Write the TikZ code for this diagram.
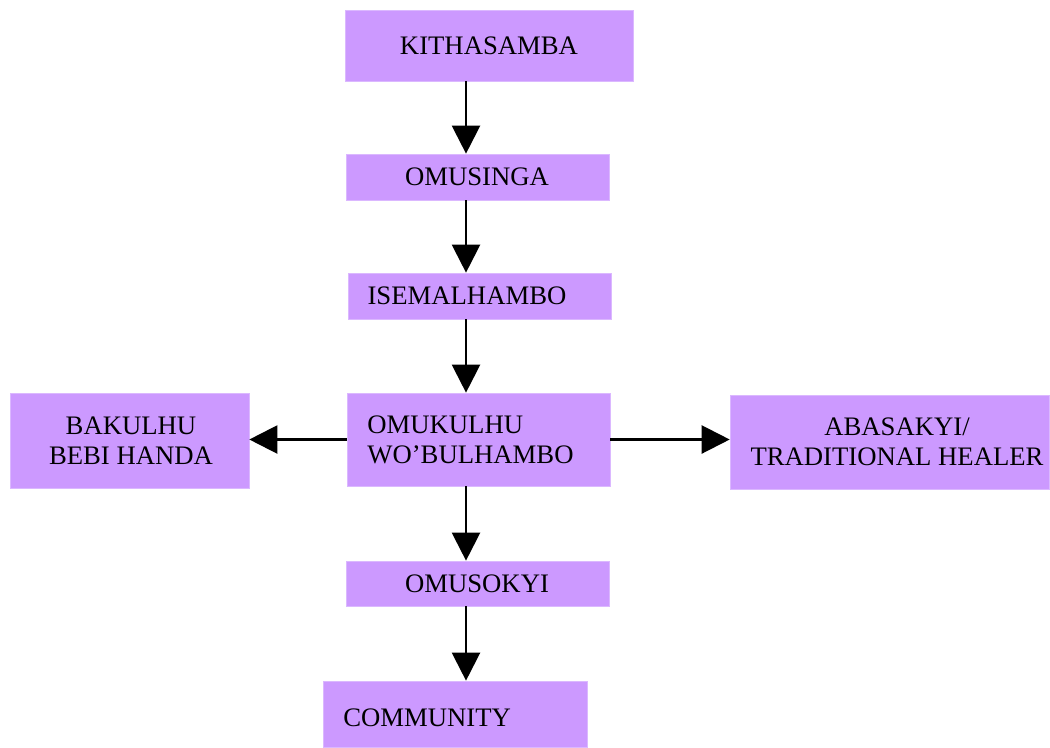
\documentclass[tikz,border=0pt]{standalone}
\usepackage{fontspec}
\setmainfont{Liberation Serif}
\usepackage{xcolor}
\usepackage{tikz}
\usetikzlibrary{arrows.meta}

\definecolor{lilac}{RGB}{204,153,255}

\tikzset{
  box/.style={fill=lilac, draw=lilac!70!white, line width=0.4pt, inner sep=0pt},
  txt/.style={font=\fontsize{15.2}{17}\selectfont, inner sep=0pt},
  arr/.style={line width=1.3pt, -{Triangle[length=0.56cm, width=0.56cm]}}
}

\begin{document}
\begin{tikzpicture}[x=0.02cm, y=-0.02cm]
            \useasboundingbox (0,0) rectangle (1050,747);
            \coordinate (spine) at (466,0);

            \node[box, minimum width=5.76cm, minimum height=1.42cm] (kithasamba) at (489,45.5) {};
            \node[txt] (kithasambaT) at (489,46) {KITHASAMBA};
            \node[box, minimum width=5.26cm, minimum height=0.92cm] (omusinga) at (477.5,177) {};
            \node[txt] (omusingaT) at (477,177) {OMUSINGA};
            \node[box, minimum width=5.26cm, minimum height=0.92cm] (isemalhambo) at (479.5,296) {};
            \node[txt] (isemalhamboT) at (467,296) {ISEMALHAMBO};
            \node[box, minimum width=5.26cm, minimum height=1.86cm] (omukulhu) at (478.5,439.5) {};
            \node[txt, anchor=west, align=left] (omukulhuT) at (367,439.5) {OMUKULHU\\WO'BULHAMBO};
            \node[box, minimum width=4.78cm, minimum height=1.90cm] (bakulhu) at (129.5,440.5) {};
            \node[txt, align=center] (bakulhuT) at (131,440.5) {BAKULHU\\BEBI HANDA};
            \node[box, minimum width=6.38cm, minimum height=1.88cm] (abasakyi) at (889.5,442) {};
            \node[txt, align=center] (abasakyiT) at (897,442) {ABASAKYI/\\TRADITIONAL HEALER};
            \node[box, minimum width=5.26cm, minimum height=0.90cm] (omusokyi) at (477.5,583.5) {};
            \node[txt] (omusokyiT) at (477,584) {OMUSOKYI};
            \node[box, minimum width=5.28cm, minimum height=1.32cm] (community) at (455,714) {};
            \node[txt, anchor=west] (communityT) at (343,717.5) {COMMUNITY};

            \draw[arr] (kithasamba.south -| spine) -- (omusinga.north -| spine); % kithasamba-omusinga
            \draw[arr] (omusinga.south -| spine) -- (isemalhambo.north -| spine); % omusinga-isemalhambo
            \draw[arr] (isemalhambo.south -| spine) -- (omukulhu.north -| spine); % isemalhambo-omukulhu
            \draw[arr] (omukulhu.south -| spine) -- (omusokyi.north -| spine); % omukulhu-omusokyi
            \draw[arr] (omusokyi.south -| spine) -- (community.north -| spine); % omusokyi-community
            \draw[arr] (omukulhu.west) -- (bakulhu.east |- omukulhu.west); % omukulhu-bakulhu
            \draw[arr] (omukulhu.east) -- (abasakyi.west |- omukulhu.east); % omukulhu-abasakyi
        \end{tikzpicture}
\end{document}
